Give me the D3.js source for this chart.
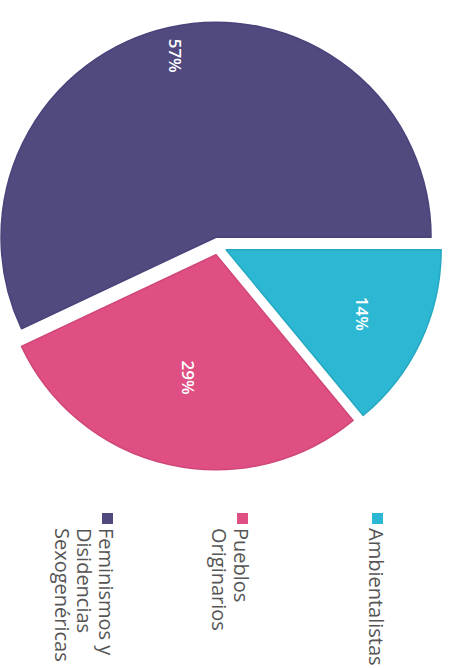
<!DOCTYPE html>
<html>
<head>
<meta charset="utf-8">
<script src="https://cdn.jsdelivr.net/npm/d3@7"></script>
<style>
  html, body { margin: 0; padding: 0; background: #fff; }
  svg { display: block; }
</style>
</head>
<body>
<svg id="chart" width="451" height="668"></svg>
<script>
// Data, in drawing order (clockwise from 12 o'clock in the unrotated chart)
const categories = ["Ambientalistas", "Pueblos Originarios", "Feminismos y Disidencias Sexogenéricas"];
const shares = [14, 29, 57];
const colors = ["#2cb7d2", "#df4f83", "#504a7f"];
const strokes = ["#26a8c2", "#cf4678", "#48437a"];

// Label distance along each slice bisector, as a fraction of the radius
const labelRadius = [0.70, 0.585, 0.865];

const W = 451, H = 668;
// The picture is the chart turned a quarter turn clockwise,
// so everything is drawn in a 668 x 451 frame and then rotated.
const cx = 246, cy = 233, radius = 215, explode = 9;

const svg = d3.select("#chart");
const g = svg.append("g")
  .attr("transform", `translate(${W},0) rotate(90)`);

const pie = d3.pie().sort(null).value(d => d.value);
const arcs = pie(categories.map((c, i) => ({ name: c, value: shares[i], i })));
const arc = d3.arc().innerRadius(0).outerRadius(radius);

const slices = g.selectAll("g.slice")
  .data(arcs)
  .enter().append("g")
  .attr("class", "slice")
  .attr("transform", d => {
    const mid = (d.startAngle + d.endAngle) / 2;
    return `translate(${cx + explode * Math.sin(mid)},${cy - explode * Math.cos(mid)})`;
  });

slices.append("path")
  .attr("d", arc)
  .attr("fill", d => colors[d.data.i])
  .attr("stroke", d => strokes[d.data.i])
  .attr("stroke-width", 1.5)
  .attr("stroke-linejoin", "round");

slices.append("text")
  .attr("transform", d => {
    const r = radius * labelRadius[d.data.i];
    const a = d3.arc().innerRadius(r).outerRadius(r);
    const [x, y] = a.centroid(d);
    return `translate(${x},${y})`;
  })
  .attr("text-anchor", "middle")
  .attr("dy", "0.36em")
  .attr("fill", "#fff")
  .style("font-family", "'Open Sans', sans-serif")
  .style("font-size", "17px")
  .style("font-weight", 600)
  .text(d => d.data.value + "%");

// Legend, one item per category spread down the right side
const legendY = d3.scalePoint().domain(categories).range([68, 338]);
const legendX = 513, swatch = 11, lineH = 22, maxW = 150;

const legend = g.selectAll("g.legend")
  .data(categories)
  .enter().append("g")
  .attr("class", "legend")
  .attr("transform", d => `translate(${legendX},${legendY(d)})`);

legend.append("rect")
  .attr("width", swatch)
  .attr("height", swatch)
  .attr("fill", (d, i) => colors[i]);

legend.each(function(d) {
  const text = d3.select(this).append("text")
    .attr("x", swatch + 4)
    .attr("y", 14)
    .attr("fill", "#555")
    .style("font-family", "'Open Sans', sans-serif")
    .style("font-size", "20px");

  // greedy word wrap
  const words = d.split(" ");
  let line = [];
  let tspan = text.append("tspan").attr("x", swatch + 4).attr("dy", 0);
  words.forEach(w => {
    line.push(w);
    tspan.text(line.join(" "));
    if (tspan.node().getComputedTextLength() > maxW && line.length > 1) {
      line.pop();
      tspan.text(line.join(" "));
      line = [w];
      tspan = text.append("tspan").attr("x", swatch + 4).attr("dy", lineH).text(w);
    }
  });
});
</script>
</body>
</html>
